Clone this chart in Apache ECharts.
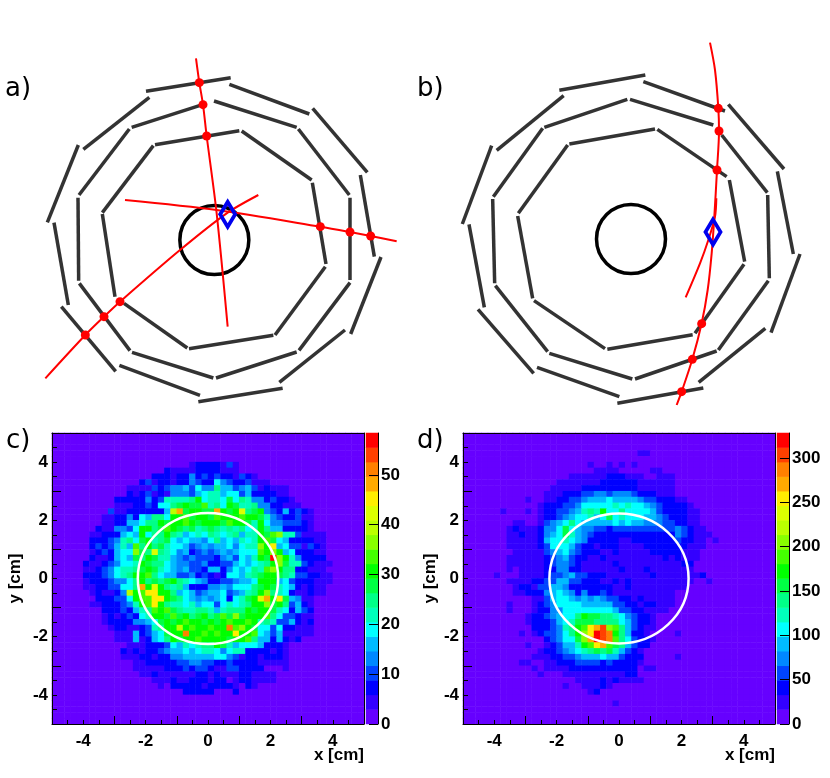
<!DOCTYPE html>
<html>
<head>
<meta charset="utf-8">
<title>Track and vertex maps</title>
<style>html,body{margin:0;padding:0;background:#fff}#chart{width:830px;height:778px}</style>
<script src="https://cdn.jsdelivr.net/npm/echarts@6/dist/echarts.min.js"></script>
</head>
<body>
<div id="chart"></div>
<script>
// colour bands of the palette, bottom of the colour bar first
var palette = ['#6600ff','#3300ff','#0000ff','#0044ff','#0088ff','#00bbff','#00ffff','#00ffbb','#00ff88','#00ff44',
               '#00ff00','#44ff00','#88ff00','#bbff00','#ddff00','#ffee00','#ffaa00','#ff8000','#ff4000','#ff0000'];
var bandDigits = '0123456789abcdefghij';

var axisTicks = [-4, -2, 0, 2, 4];
var barTicksC = [0, 10, 20, 30, 40, 50];
var barTicksD = [0, 50, 100, 150, 200, 250, 300];
var barMaxC = 58.4;
var barMaxD = 328;

// white circles: x, y, radius in cm
var circleC = [[0, 0, 2.25]];
var circleD = [[0, 0, 2.23]];

// heat maps: [first non empty column, colour band of each cell], top row first, '.' is band 0
// spaces only group the cells
var rowsC = [
[0,""],[0,""],[0,""],[0,""],[0,""],
[22,"12222 131"],
[18,"21111 22221 11"],
[16,"22212 24232 32213 21"],
[14,"23122 12243 22643 22311 1"],
[12,"11113 23445 36448 55345 31211 1"],
[12,"21231 21444 35677 56635 22221 1"],
[10,"22222 42377 778a6 77696 87442 3221"],
[10,"11122 32668 9a99b 786a9 77844 22111"],
[9,"3 11222 2225d g9aa9 9ga9a e89a4 32523 21"],
[8,"11 22426 5886a ab9aa 9baaa baa97 43223 11"],
[8,"11 22556 88a9a aba9a aa9ba a97a6 44333 21"],
[7,"211 4436a a89ba 98978 98787 867a8 55222 21"],
[6,"1122 2565a 688a8 75676 87678 577a9 bc773 1111"],
[6,"2223 47869 a7896 56554 68565 767ab 96522 2211"],
[6,"2323 575b8 a8976 65345 45564 677ca f5633 1321"],
[6,"1232 566c9 8e876 45234 34545 666ba ca562 2211"],
[6,"2112 56598 a9775 43433 32453 657a9 jca74 2222"],
[5,"21123 4667a 98865 44334 22335 65678 ac977 32111"],
[5,"11234 67789 a9765 45332 55246 5687b ca882 2111"],
[5,"22234 678aa b8655 33423 21266 5789a a9873 32211"],
[5,"12223 4468a 8989a 87654 22334 556aa a5632 22111"],
[5,"11223 3668g aea87 85222 44546 6689a 97652 1211"],
[6,"1211 24dab ffaa8 56534 55634 578ac 87621 1211"],
[7,"222 336ab bffa9 86545 45626 79aeg af954 11"],
[6,"1122 2347a bfa87 76756 63676 78aac 9a835 21"],
[8,"22 23257 8bab9 87788 75788 8a9aa 97625 32"],
[8,"12 12326 7aa9b 9a89a 89b9c 9aaab 86332 11"],
[8,"12 22244 569a9 abaa9 a9aba aba78 73352 12"],
[9,"1 22112 378aa dabaa baahb ca966 36221 11"],
[10,"11152 3569a ahaab abaaf aab65 35111 11"],
[10,"11151 2568a 9aaba aaa9a ab855 25212"],
[12,"111 22236 57678 8a975 66652 221"],
[11,"2121 22345 56567 76467 72222 121"],
[11,"1112 21224 45555 56643 12212 221"],
[13,"11 22222 33443 32232 22211 111"],
[13,"11 11122 23233 21133 2222 ...1"],
[14,"11 2111 11122 12111 221111"],
[16,"1112 11222 122.1 221111"],
[17,"1.2 22221 22221 .21"],
[21,"22222 ...2"]
];
var rowsD = [
[0,""],[0,""],[0,""],
[28,"11"],
[0,""],
[20,"1..1. 1.1"],
[21,"1111. ....1 1"],
[17,"11111 12221 11..1 11"],
[15,"11111 11222 22211 1111"],
[14,"11111 22222 22221 11111"],
[13,"11122 23344 34443 22211 1"],
[10,"1..11 22334 55565 55543 32221 1"],
[12,"12223 34666 66767 66543 22221"],
[6,"1...1 .1223 34578 7a668 66665 32222 11"],
[12,"12234 56675 69676 66554 32221 1"],
[8,"11..1 34568 65555 56565 54443 32211"],
[7,"12111 24469 65443 32333 33333 33432 11"],
[7,"11211 24569 75432 22222 22222 22432 111"],
[7,"11111 25667 65422 22211 22222 22322 11.1"],
[7,"11111 23666 53221 22211 11222 22221 11"],
[8,"1111 13456 43222 11211 11122 22211 1"],
[7,"11111 12345 32211 21111 11111 21211 1"],
[7,"11111 12344 32111 11211 11111 11122"],
[7,"1.111 12244 22111 11121 11211 11111"],
[5,"1...1 11123 34533 22211 11111 21111 1112"],
[7,"11112 23355 33222 11212 11111 11111 ..1"],
[8,"1221 33554 22222 22112 11111 1111"],
[8,"1122 24565 42422 32111 11111 11"],
[11,"11356 65454 54332 21211 111"],
[7,"1...1 23466 66555 55332 21221 11"],
[7,"1...1 22446 66666 66533 22111 1"],
[10,"12234 5668a 99887 64322 1"],
[10,"12223 56799 98888 65322 1"],
[11,"22234 78abf gicb8 53211"],
[9,"1.123 3468a cfjih a8522 1....1"],
[13,"23466 9cgji hb863 221"],
[10,"1..12 3557a bfgb9 85322"],
[12,"12234 56789 89753 21"],
[11,"11122 33455 56553 222.. ...1"],
[9,"11..1 12223 33323 22221"],
[11,"1.111 12222 22222 22.11"],
[12,"1...1 11111 11112 2"],
[18,"11112 12111 1"],
[16,"1..11 121"],
[20,"12"],
[0,""],
[24,"1"]
];

// detector planes of panels a and b: x1, y1, x2, y2 of each plate in panel units
var platesA = [
[465,314,718,272],[725,273,935,420],[937,428,978,672],[976,680,825,885],[820,886,567,926],[562,924,372,790],[345,770,307,522],[307,518,460,317],
[395,262,610,193],[642,183,890,262],[895,267,1048,465],[1050,473,1050,720],[1050,728,897,931],[890,936,648,1014],[640,1014,396,937],[390,932,238,730],[236,722,234,473],[237,465,388,267],
[438,154,692,113],[688,133,928,222],[938,205,1102,397],[1081,405,1123,650],[1143,651,1052,882],[1035,870,838,1027],[848,1045,595,1085],[600,1066,358,976],[347,994,184,800],[205,795,162,548],[142,547,235,315],[250,328,448,172]
];
var platesB = [
[478,342,735,297],[742,298,950,440],[958,450,1004,695],[1002,703,855,910],[848,914,592,958],[585,956,372,812],[368,805,323,558],[325,550,473,345],
[403,292,652,208],[660,208,910,285],[935,315,1072,488],[1073,495,1078,745],[1075,752,925,960],[920,963,675,1047],[667,1047,418,970],[413,965,256,767],[254,760,248,507],[250,500,398,295],
[448,181,706,135],[700,155,945,243],[955,223,1122,417],[1102,424,1150,672],[1170,672,1083,908],[1066,895,866,1057],[880,1074,622,1120],[628,1100,381,1012],[371,1030,204,838],[223,832,177,583],[157,582,245,347],[260,361,461,197]
];
var tracksA = [
[[588,55],[598,128],[609,194],[620,288],[650,520],[683,860]],
[[375,480],[650,510],[961,560],[1050,576],[1112,588],[1190,604]],
[[136,1015],[256,885],[312,830],[360,785],[540,630],[680,520],[775,465]]
];
var tracksB = [
[[900,38],[915,120],[925,235],[927,303],[921,420],[913,560],[905,670],[893,780],[875,880],[847,988],[815,1085],[800,1125]],
[[919,505],[915,560],[895,630],[870,700],[827,802]]
];
var hitsA = [[598,128],[609,194],[620,288],[961,560],[1050,576],[1112,588],[256,885],[312,830],[360,785]];
var hitsB = [[925,235],[927,303],[921,420],[875,881],[847,988],[815,1085]];
var beamPipeA = [[643,600]];
var beamPipeB = [[663,627]];
var vertexA = [[683,523]];
var vertexB = [[909,606]];

var labelFont = 'Liberation Sans';
var grids = [], xAxes = [], yAxes = [], series = [], visualMaps = [];

function addSketch(left, top, plates, tracks, hits, pipe, vertex) {
    var g = grids.length;
    grids.push({left: left, top: top, width: 410, height: 380});
    xAxes.push({gridIndex: g, type: 'value', show: false, min: 0, max: 1230});
    yAxes.push({gridIndex: g, type: 'value', show: false, min: 0, max: 1140, inverse: true});
    var ax = xAxes.length - 1;
    series.push({
        type: 'lines', coordinateSystem: 'cartesian2d', xAxisIndex: ax, yAxisIndex: ax, z: 2,
        lineStyle: {color: '#333333', width: 3.5, opacity: 1},
        data: plates.map(function (p) { return {coords: [[p[0], p[1]], [p[2], p[3]]]}; })
    });
    series.push({
        type: 'scatter', xAxisIndex: ax, yAxisIndex: ax, z: 3, symbol: 'circle', symbolSize: 69,
        itemStyle: {color: 'transparent', borderColor: '#000', borderWidth: 3.5, opacity: 1},
        data: pipe
    });
    tracks.forEach(function (t) {
        series.push({
            type: 'line', xAxisIndex: ax, yAxisIndex: ax, z: 4, smooth: 0.3, showSymbol: false, symbol: 'none',
            lineStyle: {color: '#ff0000', width: 2},
            data: t
        });
    });
    series.push({
        type: 'scatter', xAxisIndex: ax, yAxisIndex: ax, z: 5, symbol: 'circle', symbolSize: 9,
        itemStyle: {color: '#ff0000', opacity: 1},
        data: hits
    });
    series.push({
        type: 'scatter', xAxisIndex: ax, yAxisIndex: ax, z: 6, symbol: 'diamond', symbolSize: [15, 25],
        itemStyle: {color: 'transparent', borderColor: '#0000ee', borderWidth: 4, opacity: 1},
        data: vertex
    });
}

function addMap(left, rows, circle, barMax, barTicks, yNameGap) {
    var band = barMax / palette.length;
    var top = 433, height = 291;
    var g = grids.length;
    grids.push({left: left, top: top, width: 312, height: height});
    var cols = [], cells = [];
    for (var i = 0; i < 50; i++) { cols.push(i); }
    for (var r = 0; r < 50; r++) {
        var row = rows[r] || [0, ''];
        var txt = row[1].replace(/ /g, '');
        for (var c = 0; c < 50; c++) {
            var ch = (c >= row[0] && c - row[0] < txt.length) ? txt.charAt(c - row[0]) : '.';
            var lev = Math.max(bandDigits.indexOf(ch), 0);
            cells.push([c, 49 - r, (lev + 0.5) * band]);
        }
    }
    var frame = {show: true, onZero: false, lineStyle: {color: '#000', width: 1}};
    var tickText = {show: true, color: '#000', fontFamily: labelFont, fontWeight: 'bold', fontSize: 17};
    // category axes for the cells, they also draw the top and right frame
    xAxes.push({gridIndex: g, type: 'category', data: cols, position: 'top', z: 5, axisLine: frame, axisTick: {show: false}, axisLabel: {show: false}, splitLine: {show: false}});
    yAxes.push({gridIndex: g, type: 'category', data: cols, position: 'right', z: 5, axisLine: frame, axisTick: {show: false}, axisLabel: {show: false}, splitLine: {show: false}});
    var cat = xAxes.length - 1;
    xAxes.push({
        gridIndex: g, type: 'value', min: -5, max: 5, interval: 2, position: 'bottom', z: 5,
        axisLine: frame,
        axisTick: {show: true, inside: true, length: 8, lineStyle: {color: '#000'}},
        minorTick: {show: true, splitNumber: 4, length: 4, lineStyle: {color: '#000'}},
        axisLabel: Object.assign({customValues: axisTicks, margin: 9}, tickText),
        splitLine: {show: false}
    });
    yAxes.push({
        gridIndex: g, type: 'value', min: -5, max: 5, interval: 2, position: 'left', z: 5,
        name: 'y [cm]', nameLocation: 'middle', nameGap: yNameGap, nameMoveOverlap: false,
        nameTextStyle: {color: '#000', fontFamily: labelFont, fontWeight: 'bold', fontSize: 17},
        axisLine: frame,
        axisTick: {show: true, inside: true, length: 9, lineStyle: {color: '#000'}},
        minorTick: {show: true, splitNumber: 4, length: 5, lineStyle: {color: '#000'}},
        axisLabel: Object.assign({customValues: axisTicks, margin: 4}, tickText),
        splitLine: {show: false}
    });
    var val = xAxes.length - 1;
    var mapIndex = series.length;
    series.push({type: 'heatmap', xAxisIndex: cat, yAxisIndex: cat, z: 2, progressive: 0, data: cells});
    series.push({
        type: 'custom', xAxisIndex: val, yAxisIndex: val, z: 4, clip: false,
        renderItem: function (params, api) {
            var o = api.coord([api.value(0), api.value(1)]);
            var s = api.size([api.value(2), api.value(2)]);
            return {
                type: 'ellipse',
                shape: {cx: o[0], cy: o[1], rx: s[0], ry: s[1]},
                style: {fill: 'transparent', stroke: '#ffffff', lineWidth: 2.5}
            };
        },
        data: circle
    });

    // colour bar
    var b = grids.length;
    grids.push({left: left + 314, top: top, width: 12, height: height});
    xAxes.push({gridIndex: b, type: 'category', data: [0], show: false});
    yAxes.push({gridIndex: b, type: 'category', data: palette.map(function (p, k) { return k; }), show: false});
    var barCat = xAxes.length - 1;
    xAxes.push({gridIndex: b, type: 'value', show: false, min: 0, max: 1});
    yAxes.push({
        gridIndex: b, type: 'value', min: 0, max: barMax, position: 'right', z: 5,
        axisLine: frame,
        axisTick: {show: true, inside: true, length: 9, customValues: barTicks, lineStyle: {color: '#000'}},
        axisLabel: Object.assign({customValues: barTicks, margin: 3}, tickText),
        splitLine: {show: false}
    });
    var barIndex = series.length;
    series.push({
        type: 'heatmap', xAxisIndex: barCat, yAxisIndex: barCat, z: 2, progressive: 0,
        data: palette.map(function (p, k) { return [0, k, (k + 0.5) * band]; })
    });
    visualMaps.push({
        type: 'piecewise', show: false, seriesIndex: [mapIndex, barIndex],
        pieces: palette.map(function (p, k) { return {min: k * band, max: (k + 1) * band, color: p}; })
    });
}

addSketch(0, 40, platesA, tracksA, hitsA, beamPipeA, vertexA);
addSketch(410, 30, platesB, tracksB, hitsB, beamPipeB, vertexB);
addMap(52, rowsC, circleC, barMaxC, barTicksC, 28);
addMap(463, rowsD, circleD, barMaxD, barTicksD, 24);

function letter(text, x, y) {
    return {type: 'text', left: x, top: y, z: 10, style: {text: text, fill: '#000', font: '26px "DejaVu Sans"'}};
}
function xName(x) {
    return {type: 'text', x: x, y: 755, z: 10, style: {text: 'x [cm]', fill: '#000', align: 'right', verticalAlign: 'middle', font: 'bold 17px "Liberation Sans"'}};
}

var chart = echarts.init(document.getElementById('chart'));
chart.setOption({
    animation: false,
    backgroundColor: '#ffffff',
    grid: grids,
    xAxis: xAxes,
    yAxis: yAxes,
    visualMap: visualMaps,
    series: series,
    graphic: [letter('a)', 5, 76), letter('b)', 417, 76), letter('c)', 6, 428), letter('d)', 417, 428), xName(364), xName(775)]
});
</script>
</body>
</html>
